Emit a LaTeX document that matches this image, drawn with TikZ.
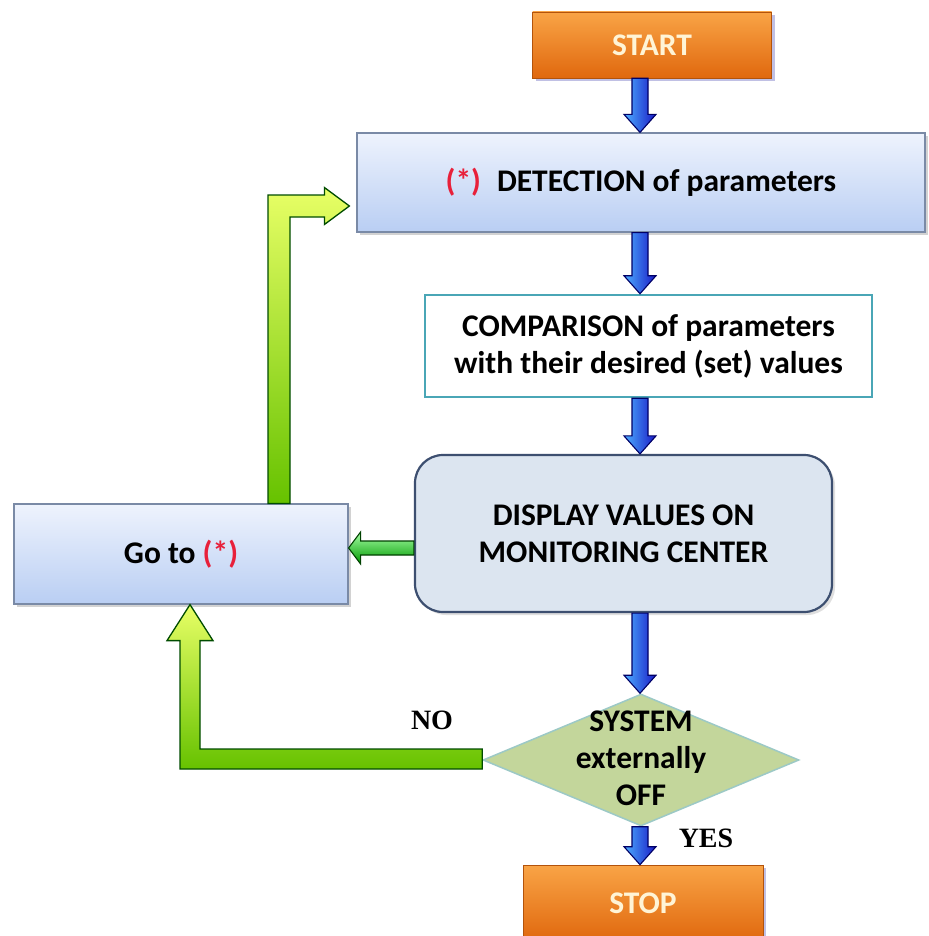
\documentclass[tikz,border=0pt]{standalone}
\usepackage{fontspec}
\setmainfont{Carlito}
\newfontfamily\timesf{Liberation Serif}
\usetikzlibrary{calc,shadows,shapes.geometric}
\definecolor{orgtop}{HTML}{F9A446}
\definecolor{orgbot}{HTML}{E0680E}
\definecolor{bxtop}{HTML}{EEF3FD}
\definecolor{bxbot}{HTML}{B9CEF3}
\definecolor{bxline}{HTML}{7A8AA6}
\definecolor{teal}{HTML}{4AA6B6}
\definecolor{dispfill}{HTML}{DCE5F0}
\definecolor{displine}{HTML}{3D4F70}
\definecolor{diafill}{HTML}{C3D69B}
\definecolor{dialine}{HTML}{9CC9C6}
\definecolor{starred}{HTML}{E8203A}
\definecolor{cream}{HTML}{FFF4D6}
\tikzset{
  txt/.style={font=\bfseries\fontsize{31.5}{37}\selectfont, align=center, text=black},
  orangebox/.style={draw=orgbot!80!black, line width=0.6, top color=orgtop, bottom color=orgbot,
     inner sep=0, drop shadow={opacity=0.35, shadow xshift=3pt, shadow yshift=-3pt, fill=blue!40!gray},
     font=\bfseries\fontsize{31.5}{37}\selectfont, text=cream},
  bluebox/.style={draw=bxline, line width=1.2, top color=bxtop, bottom color=bxbot, inner sep=0,
     drop shadow={opacity=0.35, shadow xshift=3pt, shadow yshift=-3pt}, txt},
  bluearr/.style={left color=blue!45!cyan!70!white, right color=blue!75!black!90, draw=blue!40!black, line width=1.1},
  greenarr/.style={top color=green!15!yellow!60!white, bottom color=green!60!black!60!yellow, draw=green!30!black, line width=1.3},
  darkgreenarr/.style={top color=green!35!white, bottom color=green!60!black, draw=green!25!black, line width=1.1},
  lbl/.style={font=\timesf\bfseries\fontsize{28}{30}\selectfont}
}
\newcommand\bluedown[2]{\path[bluearr] let \p1=(#1), \p2=(#2) in
  (\x1-8pt,\y1) -- (\x1+8pt,\y1) -- (\x1+8pt,\y2+18pt) -- (\x1+16pt,\y2+18pt) -- (\x1,\y2)
  -- (\x1-16pt,\y2+18pt) -- (\x1-8pt,\y2+18pt) -- cycle;}
\begin{document}
\begin{tikzpicture}[x=1pt,y=-1pt]
\useasboundingbox[fill=white] (0,0) rectangle (928,936);
\coordinate (ax) at (640,0);
% nodes
\node[orangebox, minimum width=239, minimum height=66] (start) at (652,45) {START};
\node[bluebox, minimum width=568, minimum height=99] (det) at (641,182.5)
  {\textcolor{starred}{(*)}\hspace{16pt}DETECTION of parameters};
\node[draw=teal, line width=2.5, fill=white, inner sep=0, minimum width=447, minimum height=102, txt] (comp)
  at (648.5,346) {COMPARISON of parameters\\with their desired (set) values};
\node[draw=displine, line width=2.2, fill=dispfill, rounded corners=28, inner sep=0,
  minimum width=417, minimum height=157, txt, drop shadow={opacity=0.25, shadow xshift=3pt, shadow yshift=-3pt}] (disp)
  at (623.5,533.5) {DISPLAY VALUES ON\\MONITORING CENTER};
\node[diamond, draw=dialine, line width=1.5, fill=diafill, inner sep=0, minimum width=316, minimum height=132] (dia)
  at (641,760) {};
\node[txt] (diatxt) at (641,758) {SYSTEM\\externally\\OFF};
\node[orangebox, minimum width=240, minimum height=76] (stop) at (643,903) {STOP};
\node[bluebox, minimum width=334, minimum height=100] (goto) at (181,554)
  {Go to \textcolor{starred}{(*)}};
\node[lbl] (no) at (432,720) {NO};
\node[lbl] (yes) at (706,838) {YES};
% blue connectors
\bluedown{start.south -| ax}{det.north -| ax}
\bluedown{det.south -| ax}{comp.north -| ax}
\bluedown{comp.south -| ax}{disp.north -| ax}
\bluedown{disp.south -| ax}{dia.north -| ax}
\bluedown{dia.south -| ax}{stop.north -| ax}
% display -> goto
\path[darkgreenarr] let \p1=(disp.west), \p2=(goto.east) in
  (\x1,\y1-7.5pt) -- (\x2+12pt,\y1-7.5pt) -- (\x2+12pt,\y1+1.5pt) -- (\x2,\y1-14.5pt)
  -- (\x2+12pt,\y1-30.5pt) -- (\x2+12pt,\y1-21.5pt) -- (\x1,\y1-21.5pt) -- cycle;
% goto -> detection (bent)
\path[greenarr] let \p1=(goto.north), \p2=(det.west) in
  (\x1+87pt,\y1) -- (\x1+87pt,\y2-12.5pt) -- (\x2-32pt,\y2-12.5pt) -- (\x2-32pt,\y2-5pt)
  -- (\x2-7pt,\y2-23.5pt) -- (\x2-32pt,\y2-42pt) -- (\x2-32pt,\y2-34.5pt)
  -- (\x1+109pt,\y2-34.5pt) -- (\x1+109pt,\y1) -- cycle;
% diamond -> goto (bent, NO)
\path[greenarr] let \p1=(dia.west), \p2=(goto.south) in
  (\x1,\y1+11pt) -- (\x2+19pt,\y1+11pt) -- (\x2+19pt,\y2-36pt) -- (\x2+32pt,\y2-36pt)
  -- (\x2+9pt,\y2) -- (\x2-14pt,\y2-36pt) -- (\x2-1pt,\y2-36pt) -- (\x2-1pt,\y1-9pt)
  -- (\x1,\y1-9pt) -- cycle;
\end{tikzpicture}
\end{document}
